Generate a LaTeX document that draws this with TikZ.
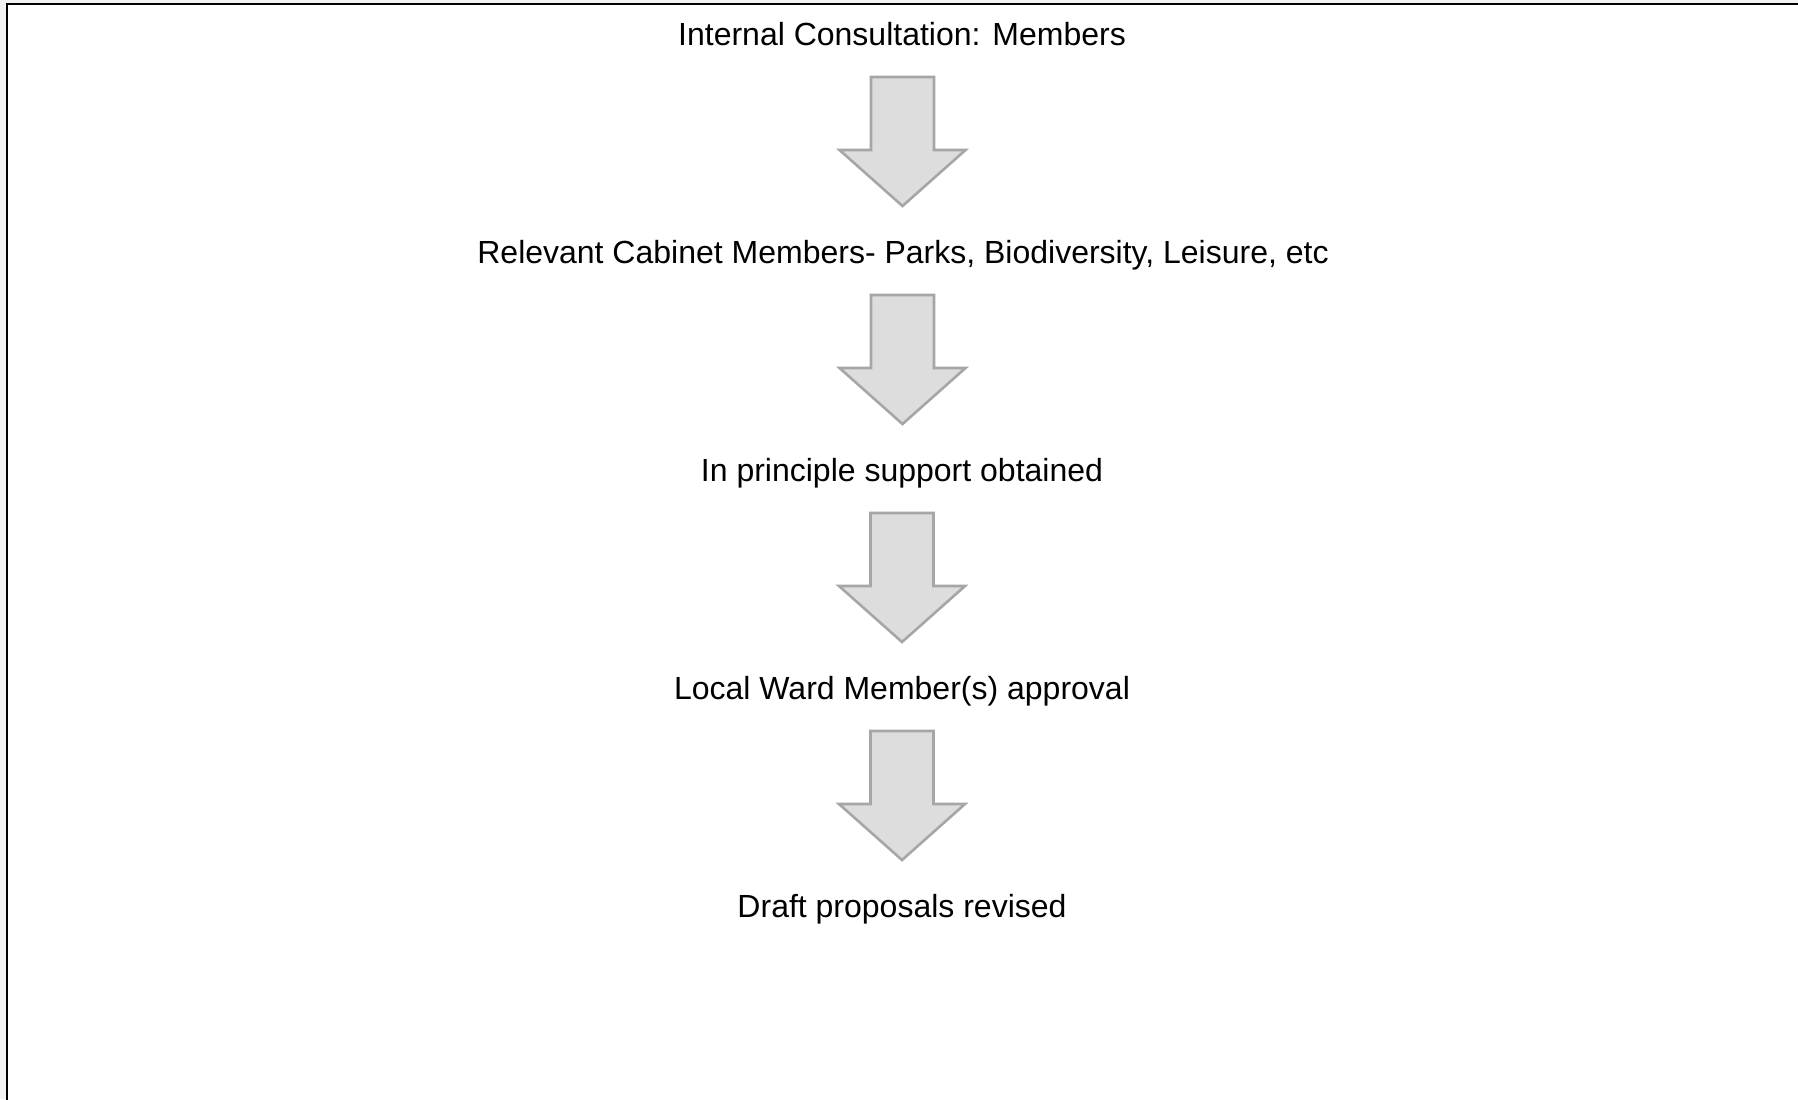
\documentclass[tikz,border=0pt]{standalone}
\usepackage{fontspec}
\setmainfont{Liberation Sans}
\usetikzlibrary{calc}
\definecolor{pagegrey}{HTML}{F2F2F2}
\definecolor{arrowfill}{HTML}{DDDDDD}
\definecolor{arrowline}{HTML}{A6A6A6}

\begin{document}
\begin{tikzpicture}[
	x           = 0.5pt,
	y           = -0.5pt,
	stage/.style = {anchor=base, inner sep=0pt, font=\fontsize{16}{19}\selectfont},
	flow/.style  = {fill=arrowfill, draw=arrowline, line width=1.3pt}]
	\useasboundingbox (0,0) rectangle (1798,1099);
	\fill [pagegrey] (0,0) rectangle (1798,1099);
	\clip (0,0) rectangle (1798,1099);
	\draw [fill=white, line width=1pt] (6.5,4.3) rectangle (1820,1120);
	\node [stage] (consult) at (902,45)  {Internal Consultation: Members};
	\node [stage] (cabinet) at (903,263) {Relevant Cabinet Members- Parks, Biodiversity, Leisure, etc};
	\node [stage] (support) at (902,481) {In principle support obtained};
	\node [stage] (ward)    at (902,699) {Local Ward Member(s) approval};
	\node [stage] (revised) at (902,917) {Draft proposals revised};
	% block arrows between the stages
	\foreach \from/\to in {consult/cabinet, cabinet/support, support/ward, ward/revised}{
	  \coordinate (mid) at ($(\from.base)!0.5!(\to.base)$);
	  \draw [flow] ($(mid)+(-31.5,-77)$) -- ++(63,0) -- ++(0,73) -- ++(31.5,0)
	    -- ($(mid)+(0,52)$) -- ++(-63,-56) -- ++(31.5,0) -- cycle;
	}
\end{tikzpicture}
\end{document}
